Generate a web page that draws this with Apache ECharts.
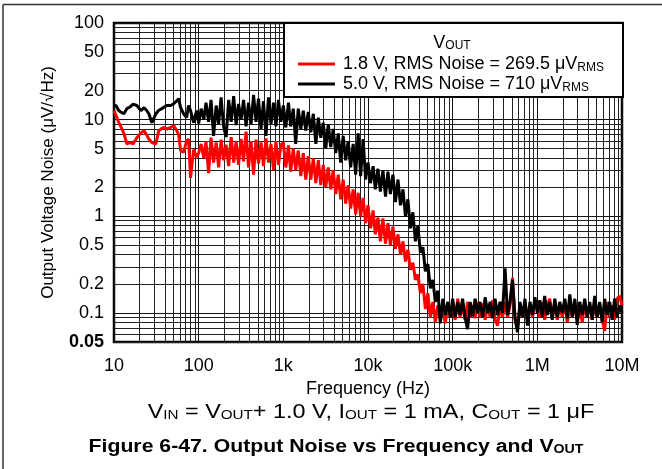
<!DOCTYPE html>
<html><head><meta charset="utf-8">
<script src="https://cdn.jsdelivr.net/npm/echarts@6/dist/echarts.min.js"></script>
<style>html,body{margin:0;padding:0;background:#fff}#c{width:662px;height:469px}</style>
</head><body><div id="c"></div>
<script>
// Frequency sample points (Hz)
const freqHz = [
  10, 10.6, 11.3, 12, 13.1, 14.2, 15.4, 16.8, 18.6, 20.8, 22.6, 24.2, 25.8, 28, 31.2, 33.8, 36.7, 39.2, 42, 46.8,
  50.7, 55, 58, 61.2, 66.4, 72.1, 76, 80.2, 87.1, 94.5,
  100, 107, 115, 122, 131, 140, 150, 161, 172, 184, 197, 211, 226, 242, 259, 277, 296, 317, 339, 363,
  388, 416, 445, 476, 509, 545, 583, 624, 668, 715, 765, 818, 876, 937,
  1000, 1070, 1150, 1220, 1310, 1400, 1500, 1610, 1720, 1840, 1970, 2110, 2260, 2420, 2590, 2770, 2960, 3170, 3390, 3630,
  3880, 4160, 4450, 4760, 5090, 5450, 5830, 6240, 6680, 7150, 7650, 8180, 8760, 9370,
  1.0e4, 1.07e4, 1.15e4, 1.22e4, 1.31e4, 1.40e4, 1.50e4, 1.61e4, 1.72e4, 1.84e4, 1.97e4, 2.11e4, 2.26e4, 2.42e4, 2.59e4, 2.77e4, 2.96e4, 3.17e4, 3.39e4, 3.63e4,
  3.88e4, 4.16e4, 4.45e4, 4.76e4, 5.09e4, 5.45e4, 5.83e4, 6.24e4, 6.68e4, 7.15e4, 7.65e4, 8.18e4, 8.76e4, 9.37e4,
  1.0e5, 1.07e5, 1.15e5, 1.22e5, 1.31e5, 1.40e5, 1.50e5, 1.61e5, 1.72e5, 1.84e5, 1.97e5, 2.11e5, 2.26e5, 2.42e5, 2.59e5, 2.77e5, 2.96e5, 3.17e5, 3.39e5, 3.63e5,
  3.88e5, 4.16e5, 4.45e5, 4.76e5, 5.09e5, 5.45e5, 5.83e5, 6.24e5, 6.68e5, 7.15e5, 7.65e5, 8.18e5, 8.76e5, 9.37e5,
  1.0e6, 1.07e6, 1.15e6, 1.22e6, 1.31e6, 1.40e6, 1.50e6, 1.61e6, 1.72e6, 1.84e6, 1.97e6, 2.11e6, 2.26e6, 2.42e6, 2.59e6, 2.77e6, 2.96e6, 3.17e6, 3.39e6, 3.63e6,
  3.88e6, 4.16e6, 4.45e6, 4.76e6, 5.09e6, 5.45e6, 5.83e6, 6.24e6, 6.68e6, 7.15e6, 7.65e6, 8.18e6, 8.76e6, 9.37e6,
  1.0e7
];

// VOUT = 1.8 V, noise in uV/rtHz
const noise1v8 = [
  12.4, 11, 9.5, 8.5, 7.2, 5.6, 5.8, 5.6, 6.5, 7.3, 7.7, 7, 6.3, 5.8, 5.6, 7.7, 8.1, 8.3, 8, 8.3,
  8.7, 7.7, 7.0, 4.8, 4.6, 6.0, 6.3, 2.5, 4.9, 4.1,
  4.5, 5.6, 4.0, 6, 2.8, 6.5, 3.6, 5.8, 3.2, 6.2, 3.8, 5.5, 3.3, 6.6, 3.6, 6.0, 3.4, 6.3, 3.7, 7.5,
  3.2, 6, 2.7, 6.2, 3.5, 5.8, 3.3, 6.4, 3.6, 5.6, 3.0, 6.0, 3.4, 5.5,
  5.8, 3.2, 5.4, 2.9, 5.0, 3.0, 4.8, 2.6, 4.5, 2.4, 4.2, 2.4, 4.0, 2.2, 3.8, 2.1, 3.4, 2.0, 3.2, 1.9,
  3.0, 1.7, 2.7, 1.5, 2.4, 1.35, 2.1, 1.2, 1.9, 1.05, 1.75, 1.0, 1.55, 0.85,
  1.3, 0.75, 1.15, 0.65, 0.97, 0.55, 0.95, 0.52, 0.85, 0.5, 0.78, 0.46, 0.65, 0.4, 0.55, 0.34, 0.45, 0.28, 0.33, 0.22,
  0.25, 0.16, 0.2, 0.11, 0.16, 0.09, 0.13, 0.08, 0.12, 0.085, 0.11, 0.078, 0.12, 0.09,
  0.13, 0.085, 0.14, 0.09, 0.12, 0.085, 0.13, 0.09, 0.12, 0.088, 0.13, 0.09, 0.125, 0.085, 0.12, 0.09, 0.135, 0.085, 0.074, 0.12,
  0.09, 0.13, 0.09, 0.12, 0.23, 0.085, 0.068, 0.12, 0.09, 0.13, 0.085, 0.12, 0.09, 0.13,
  0.12, 0.09, 0.13, 0.085, 0.12, 0.14, 0.09, 0.13, 0.085, 0.12, 0.09, 0.13, 0.08, 0.12, 0.09, 0.13, 0.085, 0.12, 0.08, 0.13,
  0.09, 0.12, 0.085, 0.13, 0.09, 0.12, 0.085, 0.065, 0.13, 0.09, 0.12, 0.085, 0.14, 0.15,
  0.12
];

// VOUT = 5.0 V, noise in uV/rtHz
const noise5v0 = [
  14, 13.9, 12.5, 12, 11.5, 13, 13.5, 14.5, 14, 12.4, 13.3, 12.5, 11.5, 9.3, 11.5, 12.5, 13, 13.5, 14, 14,
  14.6, 15.6, 16.5, 13.3, 11.5, 10.5, 14, 12.4, 9.3, 12.4,
  9.1, 13, 10, 15, 9.5, 16, 6.8, 14, 9, 17, 8.5, 6.6, 16, 9.5, 17.5, 8.8, 14.5, 10, 16, 8.5,
  15, 9, 18, 9.5, 16.5, 8, 15.5, 6.8, 17, 9, 15, 8.5, 16, 9.5,
  14, 8.3, 15, 8.5, 13, 5.6, 13, 8.0, 12.4, 7.7, 12, 7.4, 11.5, 5.6, 10.5, 6.5, 9.3, 5.0, 9.0, 5.2,
  8.0, 4.5, 7.2, 3.6, 6.8, 3.8, 6.0, 3.2, 5.6, 2.7, 7.2, 2.6, 6.3, 2.4,
  3.6, 2.2, 3.3, 1.9, 3.1, 1.8, 3.0, 1.6, 2.9, 1.7, 2.7, 1.4, 2.4, 1.3, 1.9, 1.0, 1.5, 0.75, 1.1, 0.55,
  0.8, 0.42, 0.48, 0.27, 0.32, 0.18, 0.22, 0.13, 0.17, 0.078, 0.14, 0.095, 0.13, 0.09,
  0.14, 0.09, 0.13, 0.095, 0.14, 0.09, 0.068, 0.13, 0.092, 0.14, 0.1, 0.13, 0.09, 0.145, 0.1, 0.13, 0.088, 0.14, 0.095, 0.13,
  0.1, 0.29, 0.095, 0.13, 0.22, 0.09, 0.063, 0.13, 0.09, 0.14, 0.074, 0.13, 0.095, 0.145,
  0.1, 0.135, 0.09, 0.15, 0.095, 0.13, 0.085, 0.14, 0.09, 0.13, 0.1, 0.14, 0.088, 0.155, 0.09, 0.14, 0.075, 0.13, 0.095, 0.14,
  0.09, 0.13, 0.085, 0.15, 0.09, 0.13, 0.08, 0.14, 0.095, 0.13, 0.085, 0.14, 0.09, 0.12,
  0.1
];

const seriesNames = ['1.8 V, RMS Noise = 269.5 μV', '5.0 V, RMS Noise = 710 μV'];
const xTickLabels = ['10', '100', '1k', '10k', '100k', '1M', '10M'];
const yTickValues = [100, 50, 20, 10, 5, 2, 1, 0.5, 0.2, 0.1, 0.05];

const FONT = "'Liberation Sans', Arial, Helvetica, sans-serif";

const chart = echarts.init(document.getElementById('c'), null, {renderer: 'canvas'});
const pairs = arr => freqHz.map((f, i) => [f, arr[i]]);

chart.setOption({
  animation: false,
  backgroundColor: '#fff',
  textStyle: {fontFamily: FONT, color: '#000'},
  grid: {left: 114, top: 23, width: 508, height: 319, show: true,
         borderColor: '#000', borderWidth: 2.5, backgroundColor: 'transparent'},
  xAxis: {
    type: 'log', logBase: 10, min: 10, max: 1e7,
    name: 'Frequency (Hz)', nameLocation: 'middle', nameGap: 27,
    nameTextStyle: {fontSize: 18, color: '#000', fontFamily: FONT},
    axisLine: {show: false}, axisTick: {show: false},
    axisLabel: {
      fontSize: 18, color: '#000', margin: 15, fontFamily: FONT,
      formatter: v => xTickLabels[Math.round(Math.log10(v)) - 1] || ''
    },
    splitLine: {show: true, lineStyle: {color: '#111', width: 1}},
    minorTick: {show: false, splitNumber: 9},
    minorSplitLine: {show: true, lineStyle: {color: '#222', width: 1}}
  },
  yAxis: {
    type: 'log', logBase: 10, min: 0.05, max: 100,
    name: 'Output Voltage Noise (μV/√Hz)', nameLocation: 'middle', nameGap: 57,
    nameTextStyle: {fontSize: 17, color: '#000', fontFamily: FONT},
    axisLine: {show: false}, axisTick: {show: false},
    axisLabel: {
      fontSize: 18, color: '#000', margin: 10, fontFamily: FONT,
      customValues: yTickValues,
      formatter: v => v === 0.05 ? '{b|0.05}' : String(v),
      rich: {b: {fontWeight: 'bold', fontSize: 18, fontFamily: FONT, color: '#000'}}
    },
    splitLine: {show: true, lineStyle: {color: '#111', width: 1}},
    minorTick: {show: false, splitNumber: 9},
    minorSplitLine: {show: true, lineStyle: {color: '#222', width: 1}}
  },
  legend: {
    orient: 'vertical', left: 293, top: 49, z: 20,
    itemWidth: 37, itemHeight: 3, itemGap: 0, icon: 'rect',
    data: seriesNames,
    formatter: name => name + '{s|RMS}',
    textStyle: {
      fontSize: 18, lineHeight: 20, color: '#000', fontFamily: FONT, padding: [0, 0, 0, 3],
      rich: {s: {fontSize: 12, lineHeight: 8, verticalAlign: 'bottom', fontFamily: FONT, color: '#000'}}
    }
  },
  graphic: [
    {type: 'rect', z: 10, shape: {x: 284, y: 23, width: 339, height: 74},
     style: {fill: '#fff', stroke: '#000', lineWidth: 2}},
    {type: 'text', z: 11, x: 452, y: 43,
     style: {text: 'V{s|OUT}', fontSize: 18, fontFamily: FONT, fill: '#000', align: 'center', verticalAlign: 'middle',
             rich: {s: {fontSize: 12, lineHeight: 8, verticalAlign: 'bottom', fontFamily: FONT}}}},
    {type: 'line', z: 11, shape: {x1: 3, y1: 4.5, x2: 662, y2: 4.5}, style: {stroke: '#333', lineWidth: 1.5}},
    {type: 'line', z: 11, shape: {x1: 3, y1: 4.5, x2: 3, y2: 469}, style: {stroke: '#333', lineWidth: 1.5}},
    {type: 'text', z: 11, x: 371, y: 412, scaleX: 1.17,
     style: {text: 'V{s|IN} = V{s|OUT}+ 1.0 V, I{s|OUT} = 1 mA, C{s|OUT} = 1 μF', fontSize: 20, fontFamily: FONT,
             fill: '#000', align: 'center', verticalAlign: 'middle',
             rich: {s: {fontSize: 13, lineHeight: 8, verticalAlign: 'bottom', fontFamily: FONT}}}},
    {type: 'text', z: 11, x: 336, y: 447, scaleX: 1.18,
     style: {text: 'Figure 6-47. Output Noise vs Frequency and V{s|OUT}', fontSize: 18, fontWeight: 'bold', fontFamily: FONT,
             fill: '#000', align: 'center', verticalAlign: 'middle',
             rich: {s: {fontSize: 12, fontWeight: 'bold', lineHeight: 8, verticalAlign: 'bottom', fontFamily: FONT}}}}
  ],
  series: [
    {name: seriesNames[0], type: 'line', data: pairs(noise1v8), showSymbol: false, symbol: 'none',
     color: '#ff0000', lineStyle: {color: '#ff0000', width: 3}, z: 3},
    {name: seriesNames[1], type: 'line', data: pairs(noise5v0), showSymbol: false, symbol: 'none',
     color: '#000000', lineStyle: {color: '#000000', width: 3}, z: 4}
  ]
});
</script>
</body></html>
